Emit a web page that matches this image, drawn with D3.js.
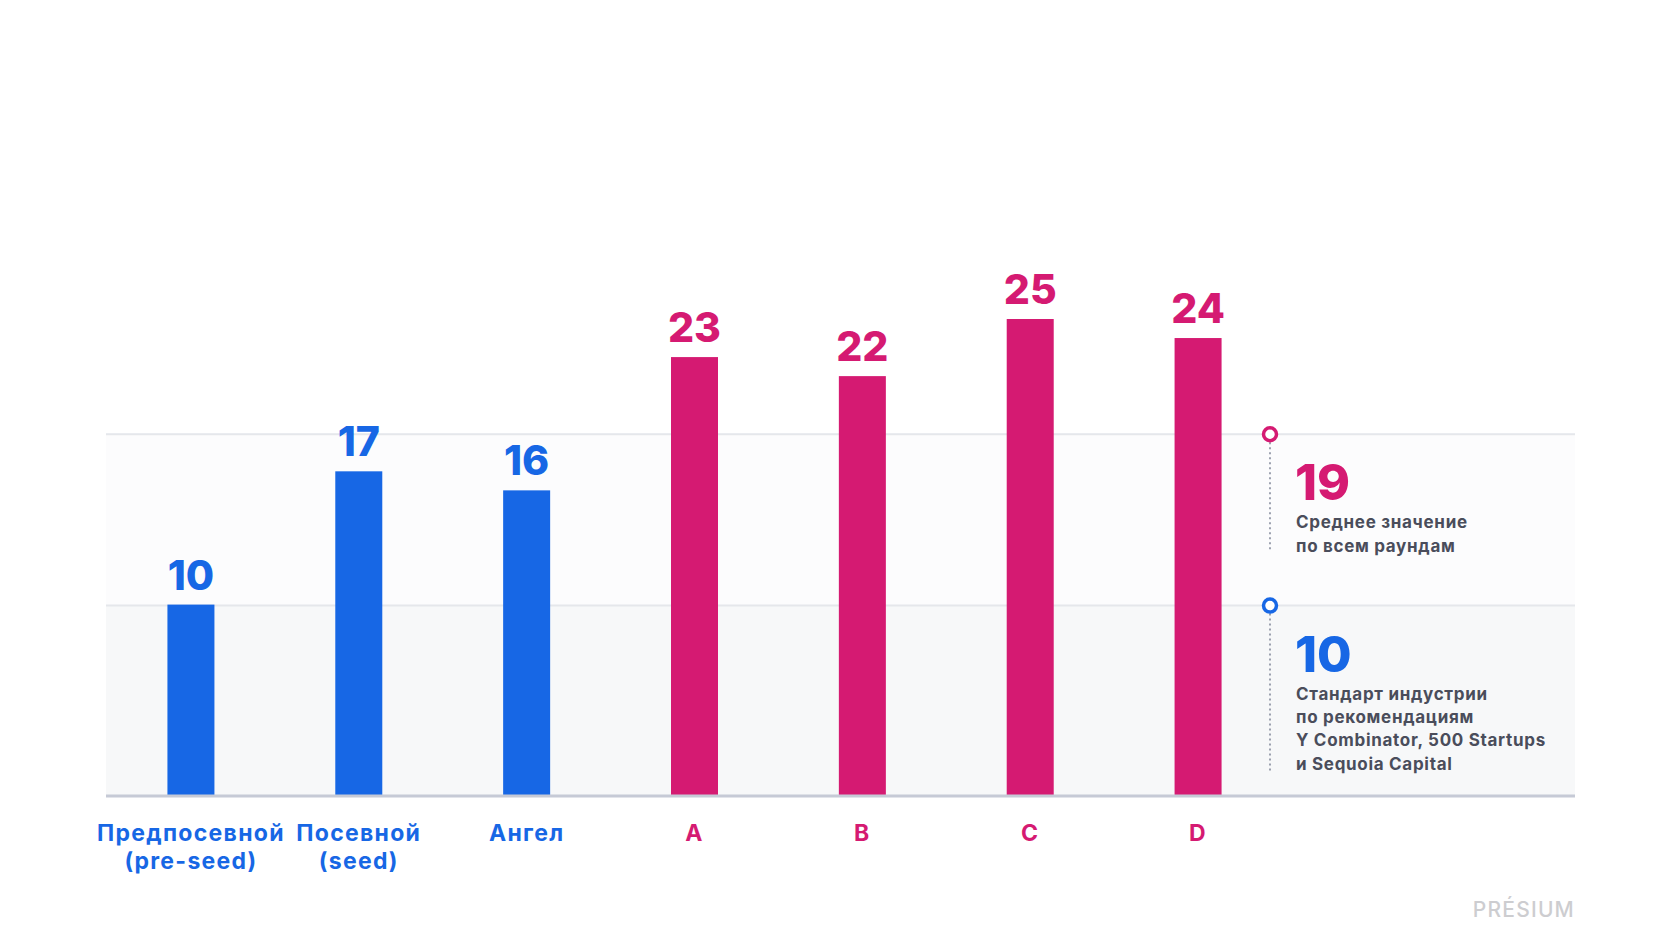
<!DOCTYPE html>
<html>
<head>
<meta charset="utf-8">
<script src="https://cdn.jsdelivr.net/npm/d3@7"></script>
<style>
  html, body { margin: 0; padding: 0; background: #fff; }
  svg { display: block; font-family: Inter, "Noto Sans", sans-serif; }
</style>
</head>
<body>
<svg id="chart" width="1680" height="945"></svg>
<script>
// rounds of funding, labels split into lines
var categories = [
  ['Предпосевной', '(pre-seed)'],
  ['Посевной', '(seed)'],
  ['Ангел'],
  ['A'],
  ['B'],
  ['C'],
  ['D']
];
var values = [10, 17, 16, 23, 22, 25, 24];
var stage = ['early', 'early', 'early', 'late', 'late', 'late', 'late'];

var avgValue = 19;
var avgText = ['Среднее значение', 'по всем раундам'];
var standardValue = 10;
var standardText = ['Стандарт индустрии', 'по рекомендациям', 'Y Combinator, 500 Startups', 'и Sequoia Capital'];

var blue = '#1767e5';
var pink = '#d51a72';
var colorOf = { early: blue, late: pink };

var svg = d3.select('#chart');

var left = 106, right = 1575, bottom = 795;

var x = d3.scaleBand()
  .domain(d3.range(values.length))
  .range([107, 1282])
  .paddingInner(0.72)
  .paddingOuter(0.36);

var y = d3.scaleLinear()
  .domain([0, 25])
  .range([bottom, 319]);

// background bands
svg.append('rect')
  .attr('x', left).attr('width', right - left)
  .attr('y', y(avgValue)).attr('height', y(standardValue) - y(avgValue))
  .attr('fill', '#fcfcfd');
svg.append('rect')
  .attr('x', left).attr('width', right - left)
  .attr('y', y(standardValue)).attr('height', bottom - y(standardValue))
  .attr('fill', '#f7f8f9');

// grid lines at the two reference values
svg.selectAll('line.grid')
  .data([avgValue, standardValue])
  .enter()
  .append('line')
  .attr('class', 'grid')
  .attr('x1', left).attr('x2', right)
  .attr('y1', function(d) { return y(d) + 1; })
  .attr('y2', function(d) { return y(d) + 1; })
  .attr('stroke', '#e5e7eb')
  .attr('stroke-width', 2);

// bars
svg.selectAll('rect.bar')
  .data(values)
  .enter()
  .append('rect')
  .attr('class', 'bar')
  .attr('x', function(d, i) { return x(i); })
  .attr('width', x.bandwidth())
  .attr('y', function(d) { return y(d); })
  .attr('height', function(d) { return bottom - y(d); })
  .attr('fill', function(d, i) { return colorOf[stage[i]]; });

// baseline
svg.append('line')
  .attr('x1', left).attr('x2', right)
  .attr('y1', bottom + 1).attr('y2', bottom + 1)
  .attr('stroke', '#c6cad6')
  .attr('stroke-width', 3);

// value labels
svg.selectAll('text.value')
  .data(values)
  .enter()
  .append('text')
  .attr('class', 'value')
  .attr('x', function(d, i) { return x(i) + x.bandwidth() / 2; })
  .attr('y', function(d) { return y(d) - 15; })
  .attr('text-anchor', 'middle')
  .attr('font-size', 41)
  .attr('font-weight', 800)
  .attr('fill', function(d, i) { return colorOf[stage[i]]; })
  .text(function(d) { return d; });

// category labels
var cat = svg.selectAll('text.cat')
  .data(categories)
  .enter()
  .append('text')
  .attr('class', 'cat')
  .attr('text-anchor', 'middle')
  .attr('font-size', 23)
  .attr('font-weight', 700)
  .attr('letter-spacing', 1.3)
  .attr('fill', function(d, i) { return colorOf[stage[i]]; });

cat.selectAll('tspan')
  .data(function(d, i) { return d.map(function(t) { return { t: t, i: i }; }); })
  .enter()
  .append('tspan')
  .attr('x', function(d) { return x(d.i) + x.bandwidth() / 2; })
  .attr('y', function(d, j) { return 841 + j * 28; })
  .text(function(d) { return d.t; });

// side annotations
function annotation(value, color, lines, lineEnd) {
  var cx = 1270, ty = y(value) + 1;
  svg.append('line')
    .attr('x1', cx).attr('x2', cx)
    .attr('y1', ty + 8).attr('y2', lineEnd)
    .attr('stroke', '#7d8396')
    .attr('stroke-width', 1.5)
    .attr('stroke-dasharray', '2,3');
  svg.append('circle')
    .attr('cx', cx).attr('cy', ty).attr('r', 6.5)
    .attr('fill', '#fff')
    .attr('stroke', color)
    .attr('stroke-width', 3.5);
  svg.append('text')
    .attr('x', 1295).attr('y', ty + 66)
    .attr('font-size', 50)
    .attr('font-weight', 800)
    .attr('fill', color)
    .text(value);
  svg.append('g').selectAll('text')
    .data(lines)
    .enter()
    .append('text')
    .attr('x', 1296)
    .attr('y', function(d, j) { return ty + 94 + j * 23.3; })
    .attr('font-size', 17)
    .attr('font-weight', 700)
    .attr('letter-spacing', 0.7)
    .attr('fill', '#4a4d5b')
    .text(function(d) { return d; });
}
annotation(avgValue, pink, avgText, 551);
annotation(standardValue, blue, standardText, 771);

// brand mark
svg.append('text')
  .attr('x', right).attr('y', 917)
  .attr('text-anchor', 'end')
  .attr('font-size', 21)
  .attr('font-weight', 500)
  .attr('letter-spacing', 1.2)
  .attr('fill', '#cdcdd0')
  .text('PRÉSIUM');
</script>
</body>
</html>
